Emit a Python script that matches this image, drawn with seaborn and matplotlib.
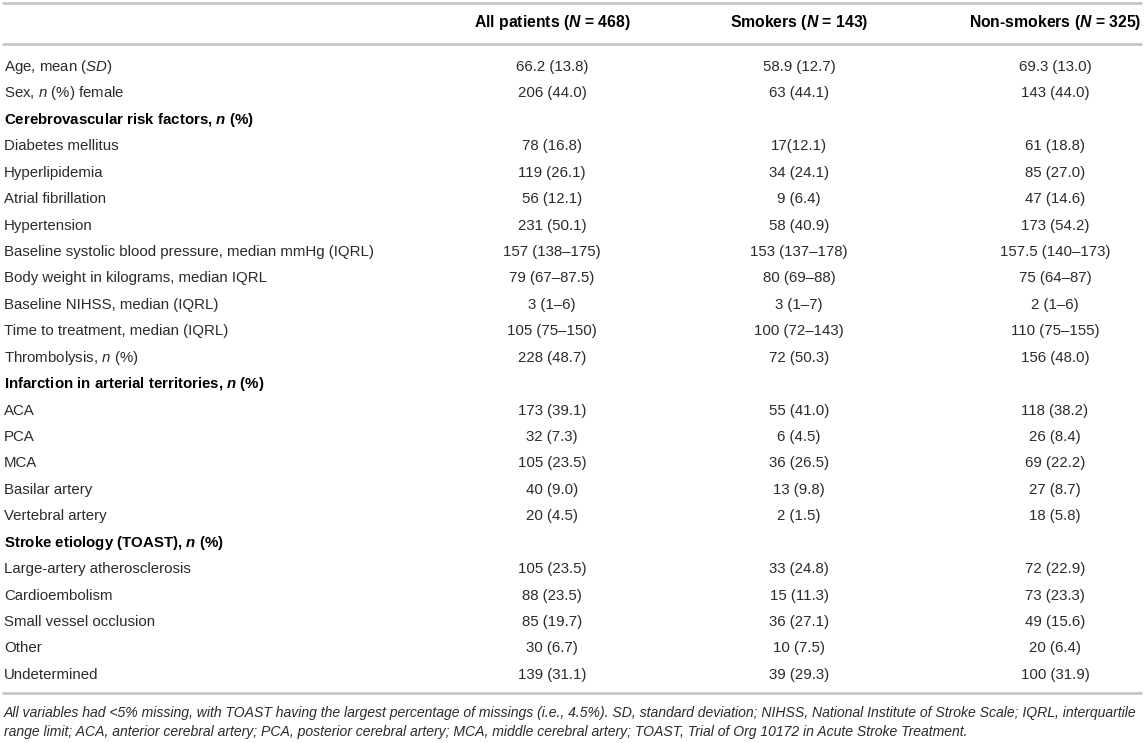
import matplotlib
matplotlib.use("Agg")
import matplotlib.pyplot as plt
import seaborn as sns

# ------------------------
# Table data
# ------------------------

col_headers = [
    r"All patients ($\mathbfit{N}$ = 468)",
    r"Smokers ($\mathbfit{N}$ = 143)",
    r"Non-smokers ($\mathbfit{N}$ = 325)",
]

row_labels = [
    r"Age, mean ($\mathit{SD}$)",
    r"Sex, $\mathit{n}$ (%) female",
    r"Cerebrovascular risk factors, $\mathbfit{n}$ (%)",
    "Diabetes mellitus",
    "Hyperlipidemia",
    "Atrial fibrillation",
    "Hypertension",
    "Baseline systolic blood pressure, median mmHg (IQRL)",
    "Body weight in kilograms, median IQRL",
    "Baseline NIHSS, median (IQRL)",
    "Time to treatment, median (IQRL)",
    r"Thrombolysis, $\mathit{n}$ (%)",
    r"Infarction in arterial territories, $\mathbfit{n}$ (%)",
    "ACA",
    "PCA",
    "MCA",
    "Basilar artery",
    "Vertebral artery",
    r"Stroke etiology (TOAST), $\mathbfit{n}$ (%)",
    "Large-artery atherosclerosis",
    "Cardioembolism",
    "Small vessel occlusion",
    "Other",
    "Undetermined",
]

group_rows = [2, 12, 18]

all_patients = [
    "66.2 (13.8)", "206 (44.0)", "",
    "78 (16.8)", "119 (26.1)", "56 (12.1)", "231 (50.1)",
    "157 (138–175)", "79 (67–87.5)", "3 (1–6)", "105 (75–150)", "228 (48.7)", "",
    "173 (39.1)", "32 (7.3)", "105 (23.5)", "40 (9.0)", "20 (4.5)", "",
    "105 (23.5)", "88 (23.5)", "85 (19.7)", "30 (6.7)", "139 (31.1)",
]

smokers = [
    "58.9 (12.7)", "63 (44.1)", "",
    "17(12.1)", "34 (24.1)", "9 (6.4)", "58 (40.9)",
    "153 (137–178)", "80 (69–88)", "3 (1–7)", "100 (72–143)", "72 (50.3)", "",
    "55 (41.0)", "6 (4.5)", "36 (26.5)", "13 (9.8)", "2 (1.5)", "",
    "33 (24.8)", "15 (11.3)", "36 (27.1)", "10 (7.5)", "39 (29.3)",
]

non_smokers = [
    "69.3 (13.0)", "143 (44.0)", "",
    "61 (18.8)", "85 (27.0)", "47 (14.6)", "173 (54.2)",
    "157.5 (140–173)", "75 (64–87)", "2 (1–6)", "110 (75–155)", "156 (48.0)", "",
    "118 (38.2)", "26 (8.4)", "69 (22.2)", "27 (8.7)", "18 (5.8)", "",
    "72 (22.9)", "73 (23.3)", "49 (15.6)", "20 (6.4)", "100 (31.9)",
]

footnote_lines = [
    "All variables had <5% missing, with TOAST having the largest percentage of missings "
    "(i.e., 4.5%). SD, standard deviation; NIHSS, National Institute of Stroke Scale; "
    "IQRL, interquartile",
    "range limit; ACA, anterior cerebral artery; PCA, posterior cerebral artery; MCA, "
    "middle cerebral artery; TOAST, Trial of Org 10172 in Acute Stroke Treatment.",
]

# ------------------------
# Style
# ------------------------

sns.set_theme(style="white")
plt.rcParams["font.family"] = ["Liberation Sans", "DejaVu Sans"]
plt.rcParams["mathtext.fontset"] = "custom"
plt.rcParams["mathtext.rm"] = "Liberation Sans"
plt.rcParams["mathtext.it"] = "Liberation Sans:italic"
plt.rcParams["mathtext.bf"] = "Liberation Sans:bold"
plt.rcParams["mathtext.bfit"] = "Liberation Sans:italic:bold"

text_color = "#2b2b2b"
rule_color = "#c4c4c4"
fs = 10.8

fig = plt.figure(figsize=(11.44, 7.43), dpi=100)
ax = fig.add_axes([0, 0, 1, 1])
ax.set_xlim(0, 1144)
ax.set_ylim(743, 0)
ax.axis("off")

col_x = [552, 799, 1055]
label_x = 4
header_y = 23
first_row_y = 67
row_step = 26.43

# rules
for y in [3, 44, 693]:
    ax.plot([2, 1142], [y, y], color=rule_color, lw=1.9, solid_capstyle="butt")

# header
for x, h in zip(col_x, col_headers):
    ax.text(x, header_y, h, ha="center", va="center", fontsize=11.3,
            fontweight="bold", color="black")

# body
for i, label in enumerate(row_labels):
    y = first_row_y + i * row_step
    if i in group_rows:
        ax.text(label_x, y, label, ha="left", va="center", fontsize=fs,
                fontweight="bold", color="black")
    else:
        ax.text(label_x, y, label, ha="left", va="center", fontsize=fs,
                color=text_color)
    for x, vals in zip(col_x, [all_patients, smokers, non_smokers]):
        if vals[i]:
            ax.text(x, y, vals[i], ha="center", va="center", fontsize=fs,
                    color=text_color)

# footnote, fitted to the table width
foot_family = ["Liberation Sans Narrow", "Liberation Sans", "DejaVu Sans"]
t1 = ax.text(label_x, 713, footnote_lines[0], ha="left", va="center",
             fontsize=10, style="italic", family=foot_family, color=text_color)
fig.canvas.draw()
w = t1.get_window_extent().width
foot_fs = 10 * 1137 / w
t1.set_fontsize(foot_fs)
ax.text(label_x, 732, footnote_lines[1], ha="left", va="center",
        fontsize=foot_fs, style="italic", family=foot_family, color=text_color)

fig.savefig("out.png", dpi=100)
